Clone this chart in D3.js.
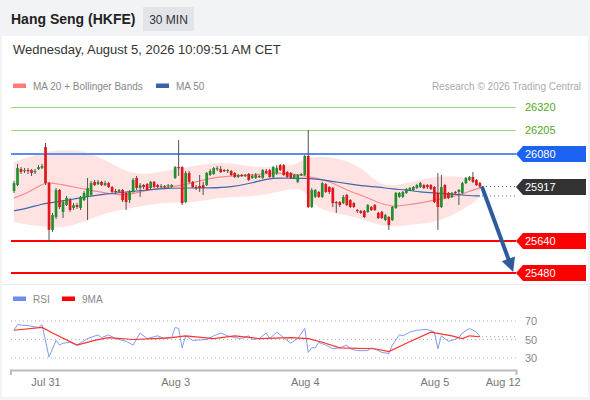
<!DOCTYPE html>
<html>
<head>
<meta charset="utf-8">
<script src="https://cdn.jsdelivr.net/npm/d3@7"></script>
<style>
body { margin: 0; background: #fff; }
svg  { display: block; font-family: "Liberation Sans", Arial, sans-serif; }
</style>
</head>
<body>
<svg id="chart" width="590" height="400"></svg>
<script>
"use strict"

var title    = "Hang Seng (HKFE)";
var period   = "30 MIN";
var stamp    = "Wednesday, August 5, 2026 10:09:51 AM CET";
var credit   = "Research \u00a9 2026 Trading Central";

// 30 min candles: [open, high, low, close]
var candles = [
    [25895,25946,25885,25935], [25925,26032,25920,26011], [26006,26016,25981,25991],
    [25996,26011,25986,26001], [26001,26011,25981,25996], [26001,26006,25971,25986],
    [25991,26006,25981,25996], [26006,26026,26001,26016], [26011,26032,26006,26021],
    [26118,26138,25925,25935], [25935,25941,25637,25698], [25698,25784,25688,25773],
    [25763,25910,25753,25900], [25900,25905,25804,25814], [25789,25849,25758,25839],
    [25824,25870,25819,25860], [25849,25860,25789,25799], [25809,25834,25799,25824],
    [25824,25834,25804,25814], [25809,25870,25799,25865], [25849,25895,25844,25885],
    [25865,25961,25748,25910], [25875,25946,25870,25935], [25941,25951,25920,25925],
    [25930,25951,25925,25941], [25941,25946,25920,25925], [25925,25946,25920,25935],
    [25935,25941,25910,25915], [25915,25920,25885,25890], [25895,25905,25880,25890],
    [25890,25905,25885,25900], [25900,25905,25839,25849], [25885,25890,25799,25839],
    [25849,25900,25834,25890], [25890,25961,25885,25951], [25961,25971,25900,25910],
    [25910,25935,25865,25925], [25925,25930,25905,25915], [25930,25935,25895,25900],
    [25910,25946,25905,25941], [25941,25946,25910,25915], [25925,25930,25910,25915],
    [25920,25930,25910,25920], [25920,25925,25905,25915], [25920,25930,25910,25925],
    [25915,25930,25910,25925], [25961,26021,25956,26016], [26016,26153,25971,26011],
    [26016,26021,25824,25834], [25839,25996,25834,25986], [25986,25996,25935,25941],
    [25941,25946,25910,25915], [25915,25925,25900,25910], [25920,25976,25890,25910],
    [25925,25941,25875,25910], [25925,25991,25920,25986], [25976,26006,25971,25996],
    [25981,26016,25976,26011], [26006,26021,25996,26011], [26006,26021,25986,25991],
    [26001,26006,25991,25996], [25996,26006,25986,26001], [25996,26001,25971,25976],
    [25986,25991,25961,25966], [25966,25981,25961,25976], [25976,25981,25966,25971],
    [25971,25981,25966,25976], [25981,25986,25946,25951], [25961,25981,25956,25971],
    [25961,25986,25956,25976], [25971,25976,25961,25966], [25961,26006,25956,26001],
    [25996,26006,25981,25986], [26001,26006,25961,25966], [25966,26021,25961,26016],
    [25986,26026,25976,26011], [26026,26032,25996,26001], [26026,26032,25971,25976],
    [25991,25996,25961,25966], [25986,25991,25956,25961], [25961,25981,25956,25976],
    [25941,25981,25935,25976], [25976,25986,25971,25981], [25976,26077,25971,26072],
    [26072,26203,25809,25814], [25814,25910,25809,25900], [25865,25905,25860,25900],
    [25890,25895,25860,25865], [25865,25941,25860,25935], [25930,25935,25885,25890],
    [25915,25920,25880,25890], [25910,25915,25814,25834], [25839,25844,25784,25834],
    [25839,25844,25814,25824], [25834,25875,25829,25865], [25875,25880,25819,25824],
    [25849,25854,25809,25814], [25834,25839,25809,25814], [25799,25804,25784,25794],
    [25794,25799,25779,25784], [25794,25799,25758,25763], [25789,25829,25784,25824],
    [25814,25819,25794,25799], [25824,25829,25794,25799], [25784,25789,25753,25758],
    [25789,25794,25753,25758], [25748,25779,25743,25773], [25763,25768,25698,25723],
    [25748,25819,25743,25814], [25809,25890,25804,25885], [25865,25890,25860,25885],
    [25865,25895,25860,25890], [25885,25910,25880,25905], [25900,25915,25895,25910],
    [25900,25920,25895,25915], [25910,25930,25905,25925], [25915,25941,25910,25935],
    [25925,25930,25905,25910], [25925,25930,25905,25915], [25925,25930,25900,25905],
    [25915,25920,25834,25839], [25885,25986,25698,25814], [25814,25976,25809,25915],
    [25925,25930,25854,25860], [25885,25890,25854,25860], [25865,25890,25860,25885],
    [25890,25895,25880,25885], [25890,25905,25824,25900], [25885,25941,25880,25935],
    [25935,25966,25930,25961], [25951,25971,25946,25966], [25966,25991,25935,25941],
    [25951,25956,25920,25925], [25935,25941,25910,25917]
];

// indicator values read at these candle indices
var bandIdx   = [0, 4, 8, 10, 14, 20, 26, 32, 38, 44, 50, 56, 62, 68, 74,
                 80, 83, 86, 90, 96, 100, 104, 108, 112, 116, 120, 124, 128, 131, 133];
var bandUpper = [26042, 26067, 26087, 26097, 26102, 26102, 26052, 25991, 25976, 26001,
                 26016, 26037, 26037, 26016, 26016, 26021, 26062, 26067, 26067, 26042,
                 26001, 25930, 25920, 25935, 25951, 25966, 25971, 25966, 25951, 25935];
var bandLower = [25738, 25723, 25718, 25713, 25708, 25738, 25784, 25804, 25824, 25839,
                 25834, 25854, 25865, 25865, 25885, 25910, 25900, 25814, 25789, 25768,
                 25748, 25723, 25713, 25723, 25728, 25738, 25763, 25799, 25834, 25865];
var ma20      = [25860, 25885, 25930, 25941, 25925, 25905, 25885, 25870, 25900, 25915,
                 25930, 25961, 25971, 25976, 25986, 25981, 25971, 25961, 25946, 25890,
                 25870, 25834, 25814, 25824, 25834, 25849, 25860, 25880, 25900, 25910];
var ma50      = [25794, 25809, 25829, 25834, 25844, 25865, 25880, 25890, 25900, 25910,
                 25910, 25910, 25915, 25935, 25966, 25956, 25961, 25956, 25946, 25930,
                 25920, 25915, 25905, 25900, 25890, 25885, 25880, 25875, 25870, 25870];

var levels     = [26320, 26205, 26080, 25640, 25480];
var levelKinds = ["resist", "resist", "pivot", "support", "support"];
var lastPrice  = 25917;
var target     = 25480;

var rsiIdx = [0, 1, 4, 7, 8, 10, 12, 13, 14, 16, 18, 21, 24, 25, 27, 29, 32, 34, 36, 38,
              41, 43, 45, 46, 47, 48, 49, 51, 55, 57, 59, 61, 63, 65, 67, 68, 70, 72, 73, 75,
              77, 79, 81, 83, 84, 85, 86, 87, 89, 91, 93, 95, 96, 98, 101, 102, 104, 105, 107, 108,
              110, 111, 113, 115, 118, 120, 121, 122, 124, 125, 127, 128, 130, 132, 133];
var rsiVal = [60, 66, 65, 63, 66, 31, 49, 44, 46, 47, 44, 51, 55, 52, 55, 51, 48, 44, 57, 51,
              54, 51, 52, 63, 62, 41, 54, 49, 50, 54, 57, 54, 52, 51, 54, 50, 51, 57, 51, 58,
              52, 46, 51, 62, 36, 41, 41, 47, 44, 40, 41, 44, 40, 38, 38, 41, 38, 36, 35, 44,
              55, 54, 58, 60, 61, 58, 40, 54, 48, 49, 52, 57, 62, 58, 53];
var rsiMaIdx = [0, 8, 11, 18, 23, 27, 34, 40, 45, 49, 57, 63, 70, 79, 84, 88, 93,
                103, 107, 112, 119, 125, 128, 130, 133];
var rsiMaVal = [60, 63, 57, 44, 49, 52, 50, 51, 52, 54, 51, 54, 51, 52, 51, 47, 41,
                40, 37, 46, 58, 54, 51, 54, 53];
var rsiTicks = [70, 50, 30];

var dayIdx    = [9, 46, 83, 120, 139.5];
var dayLabels = ["Jul 31", "Aug 3", "Aug 4", "Aug 5", "Aug 12"];

var green = "#23902d";
var red   = "#e3161b";
var kindStyle = {
    resist:  { line: "#9fd67f", width: 1, tag: null,      text: "#52a824" },
    pivot:   { line: "#5b8def", width: 2, tag: "#1d63f2", text: "#fff" },
    support: { line: "#ff0000", width: 2, tag: "#ff0000", text: "#fff" }
};

var svg = d3.select("#chart");
var x = d3.scaleLinear().domain([-1, 143.3]).range([10.5, 516]);
var y = d3.scaleLinear().domain([25480, 26320]).range([273, 107]);
var r = d3.scaleLinear().domain([30, 70]).range([358, 321]);

function drawFrame() {
    svg.append("rect").attr("width", 590).attr("height", 400).style("fill", "#f2f3f5");
    svg.append("rect").attr("x", 2).attr("y", 36).attr("width", 586).attr("height", 361)
        .style("fill", "#fff");
    svg.append("line").attr("x1", 2).attr("x2", 588).attr("y1", 284.5).attr("y2", 284.5)
        .style("stroke", "#ececec");

    svg.append("text").text(title).attr("x", 11).attr("y", 24)
        .attr("font-size", "14px").attr("font-weight", "bold").style("fill", "#222");
    svg.append("rect").attr("x", 143).attr("y", 7).attr("width", 51).attr("height", 24)
        .style("fill", "#e1e4e8");
    svg.append("text").text(period).attr("x", 168.5).attr("y", 23.5)
        .attr("text-anchor", "middle").attr("font-size", "12px").style("fill", "#333");
    svg.append("text").text(stamp).attr("x", 13).attr("y", 54)
        .attr("font-size", "13px").style("fill", "#333");

    svg.append("text").text(credit).attr("x", 581).attr("y", 90)
        .attr("text-anchor", "end").attr("font-size", "10px").style("fill", "#aaa");
}

function legendItem(xp, yp, color, label) {
    svg.append("rect").attr("x", xp).attr("y", yp - 2.5).attr("width", 13).attr("height", 4.5)
        .style("fill", color);
    svg.append("text").text(label).attr("x", xp + 20).attr("y", yp + 3.5)
        .attr("font-size", "10px").style("fill", "#888");
}

function tag(yp, color, label) {
    svg.append("path")
        .attr("d", "M516," + yp + "L523," + (yp - 8) + "H586V" + (yp + 8) + "H523Z")
        .style("fill", color);
    svg.append("text").text(label).attr("x", 525).attr("y", yp + 4)
        .attr("font-size", "11px").style("fill", "#fff");
}

function drawMain() {
    var band = d3.area()
        .x((d, i) => x(bandIdx[i]))
        .y0((d, i) => y(bandLower[i]))
        .y1((d, i) => y(bandUpper[i]))
        .curve(d3.curveBasis);
    svg.append("path").datum(bandIdx).attr("d", band).style("fill", "#ffe3e3");

    var maLine = function(vals) {
        return d3.line().x((d, i) => x(bandIdx[i])).y((d, i) => y(vals[i]))
            .curve(d3.curveBasis)(bandIdx);
    };
    svg.append("path").attr("d", maLine(ma20))
        .style("fill", "none").style("stroke", "#ff8a8a").style("stroke-width", 1.2);
    svg.append("path").attr("d", maLine(ma50))
        .style("fill", "none").style("stroke", "#3f67aa").style("stroke-width", 1.2);

    // level lines
    levels.forEach(function(v, i) {
        var st = kindStyle[levelKinds[i]];
        var yp = Math.round(y(v)) + (st.width == 1 ? 0.5 : 0);
        svg.append("line").attr("x1", 11).attr("x2", 516).attr("y1", yp).attr("y2", yp)
            .style("stroke", st.line).style("stroke-width", st.width);
        if (st.tag)
            tag(Math.round(y(v)), st.tag, v);
        else
            svg.append("text").text(v).attr("x", 525).attr("y", Math.round(y(v)) + 4)
                .attr("font-size", "11px").style("fill", st.text);
    });

    // candles
    var bw = 2.7;
    var g = svg.append("g");
    g.selectAll("line.wick").data(candles).enter()
        .append("line")
        .attr("class", "wick")
        .attr("x1", (d, i) => x(i)).attr("x2", (d, i) => x(i))
        .attr("y1", d => y(d[1])).attr("y2", d => y(d[2]))
        .style("stroke", "#505050").style("stroke-width", 1);
    g.selectAll("rect.body").data(candles).enter()
        .append("rect")
        .attr("class", "body")
        .attr("x", (d, i) => x(i) - bw / 2)
        .attr("y", d => y(Math.max(d[0], d[3])))
        .attr("width", bw)
        .attr("height", d => Math.max(1.2, Math.abs(y(d[0]) - y(d[3]))))
        .style("fill", d => d[3] >= d[0] ? green : red);

    // extensions past the last candle
    var lastX = x(candles.length - 1) + 2;
    svg.append("line").attr("x1", lastX).attr("x2", 516)
        .attr("y1", y(lastPrice)).attr("y2", y(lastPrice))
        .style("stroke", "#444").style("stroke-dasharray", "1,3");
    svg.append("line").attr("x1", lastX).attr("x2", 516)
        .attr("y1", y(ma50[ma50.length - 1])).attr("y2", y(ma50[ma50.length - 1]))
        .style("stroke", "#3f67aa").style("stroke-dasharray", "1,3");
    tag(Math.round(y(lastPrice)), "#333", lastPrice);

    // forecast arrow
    var x0 = lastX, y0 = y(lastPrice), x1 = x(142.5), y1 = y(target) - 1;
    var dx = x1 - x0, dy = y1 - y0, len = Math.sqrt(dx * dx + dy * dy);
    var ux = dx / len, uy = dy / len, hl = 14, hw = 7;
    var bx = x1 - ux * hl, by = y1 - uy * hl;
    svg.append("line").attr("x1", x0).attr("y1", y0).attr("x2", bx + ux * 2).attr("y2", by + uy * 2)
        .style("stroke", "#2d5b9c").style("stroke-width", 4);
    svg.append("path")
        .attr("d", "M" + x1 + "," + y1 +
                   "L" + (bx - uy * hw) + "," + (by + ux * hw) +
                   "L" + (bx + uy * hw) + "," + (by - ux * hw) + "Z")
        .style("fill", "#2d5b9c");
}

function drawRsi() {
    rsiTicks.forEach(function(t) {
        svg.append("line").attr("x1", 11).attr("x2", 516).attr("y1", r(t)).attr("y2", r(t))
            .style("stroke", "#b5b5b5").style("stroke-dasharray", "1,3");
        svg.append("text").text(t).attr("x", 525).attr("y", r(t) + 4)
            .attr("font-size", "11px").style("fill", "#888");
    });

    var rsiLine = d3.line().x((d, i) => x(rsiIdx[i])).y((d, i) => r(rsiVal[i]));
    var maLine  = d3.line().x((d, i) => x(rsiMaIdx[i])).y((d, i) => r(rsiMaVal[i]));
    svg.append("path").attr("d", rsiLine(rsiIdx))
        .style("fill", "none").style("stroke", "#7d9df0").style("stroke-width", 1);
    svg.append("path").attr("d", maLine(rsiMaIdx))
        .style("fill", "none").style("stroke", "#ff3030").style("stroke-width", 1.2);

    var lastR = rsiVal[rsiVal.length - 1];
    svg.append("line").attr("x1", x(rsiIdx[rsiIdx.length - 1]) + 2).attr("x2", 516)
        .attr("y1", r(lastR)).attr("y2", r(lastR))
        .style("stroke", "#7d9df0").style("stroke-dasharray", "1,3");

    var axis = d3.axisBottom(x)
        .tickValues(dayIdx)
        .tickFormat((d, i) => dayLabels[i])
        .tickSizeInner(0)
        .tickSizeOuter(5)
        .tickPadding(8);
    var ax = svg.append("g").attr("transform", "translate(0,370)").call(axis);
    ax.select(".domain").style("stroke", "#bbb").style("stroke-width", 2);
    ax.selectAll("text").attr("font-size", "11px")
        .attr("font-family", "Liberation Sans, Arial, sans-serif").style("fill", "#777");
}

drawFrame();
legendItem(13, 86, "#ff7b7b", "MA 20 + Bollinger Bands");
legendItem(156, 86, "#3a64a8", "MA 50");
drawMain();
legendItem(13, 299, "#6b8ff0", "RSI");
legendItem(62, 299, "#ff0000", "9MA");
drawRsi();
</script>
</body>
</html>
